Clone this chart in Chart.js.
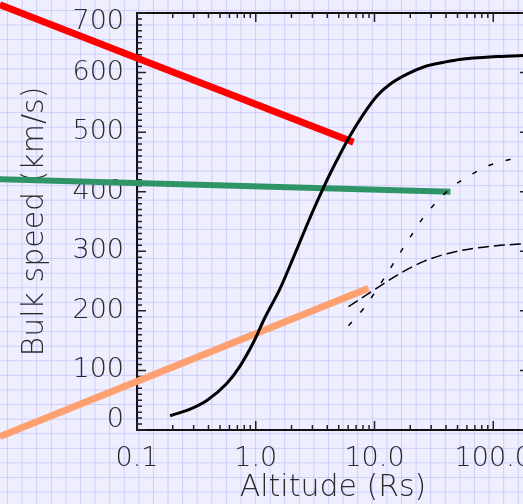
<!DOCTYPE html>
<html>
<head>
<meta charset="utf-8">
<script src="https://cdn.jsdelivr.net/npm/chart.js@4.4.1/dist/chart.umd.min.js"></script>
<style>
  html, body {
    margin: 0;
    padding: 0;
    overflow: hidden;
    width: 523px;
    height: 504px;
  }
  body {
    background-color: #eeeeff;
    background-image:
      linear-gradient(to right, rgba(196, 196, 248, 0.75) 1px, transparent 1px),
      linear-gradient(to bottom, rgba(196, 196, 248, 0.75) 1px, transparent 1px);
    background-size: 14.6px 14.6px;
    background-position: 7px 10px;
  }
  canvas { display: block; }
</style>
</head>
<body>
<canvas id="speedChart" width="560" height="504"></canvas>
<script>
// Bulk speed vs altitude

// solid black model curve
const altSolid = [0.19, 0.28, 0.39, 0.57, 0.73, 0.95, 1.19, 1.59, 2.06, 2.67, 3.35, 4.06, 5.1, 6.19, 8.0, 10.4, 13.4, 18.6, 27.4, 37.8, 52, 109, 200];
const speedSolid = [24, 35, 50, 78, 106, 146, 188, 236, 288, 342, 387, 423, 462, 493, 529, 560, 580, 597, 611, 617, 622, 627, 629];

// short-dashed curve
const altDotted = [6.04, 8.09, 12.9, 16.0, 20.3, 25.6, 33.7, 45.1, 64.3, 91.8, 138, 200];
const speedDotted = [175, 204, 264, 294, 326, 356, 384, 408, 428, 444, 454, 460];

// long-dashed curve
const altDashed = [6.04, 11.2, 16.5, 26, 40.9, 68.6, 115, 200];
const speedDashed = [207, 242, 263, 283, 296, 305, 310, 313];

// straight fits (they run past the left axis)
const altRed = [0.007, 6.66];
const speedRed = [714, 483];
const altGreen = [0.007, 43.6];
const speedGreen = [421, 400];
const altOrange = [0.007, 8.9];
const speedOrange = [-11, 238];

// axes
const xMajor = [0.1, 1, 10, 100];
const xMax = 200;
const yMajor = [0, 100, 200, 300, 400, 500, 600, 700];
const yMinorStep = 10;

const textColor = '#2a2a2a';
const labelFont = { family: 'DejaVu Sans', size: 27, weight: 200 };
const titleFont = { family: 'DejaVu Sans', size: 30, weight: 200 };

function toPoints(xs, ys) {
    return xs.map((v, i) => ({ x: v, y: ys[i] }));
}

// frame and inward tick marks, like the original plot
const frameTicks = {
    id: 'frameTicks',
    beforeDatasetsDraw(chart) {
        const { ctx, chartArea: a, scales: { x, y } } = chart;
        ctx.save();
        ctx.strokeStyle = '#111';
        ctx.lineWidth = 2;
        ctx.strokeRect(a.left, a.top, a.right - a.left, a.bottom - a.top);
        ctx.lineWidth = 1.5;
        ctx.strokeStyle = '#222';
        ctx.beginPath();
        x.ticks.forEach(t => {
            const px = x.getPixelForValue(t.value);
            const len = xMajor.includes(t.value) ? 9 : 5;
            ctx.moveTo(px, a.bottom);
            ctx.lineTo(px, a.bottom - len);
            ctx.moveTo(px, a.top);
            ctx.lineTo(px, a.top + len);
        });
        y.ticks.forEach(t => {
            const py = y.getPixelForValue(t.value);
            const len = yMajor.includes(t.value) ? 9 : 5;
            ctx.moveTo(a.left, py);
            ctx.lineTo(a.left + len, py);
            ctx.moveTo(a.right, py);
            ctx.lineTo(a.right - len, py);
        });
        ctx.stroke();
        ctx.restore();
    }
};

const yTop = yMajor[yMajor.length - 1];
const yBottom = yMajor[0];

const ctx = document.getElementById('speedChart');

new Chart(ctx, {
    type: 'line',
    data: {
        datasets: [
            {
                label: 'model',
                data: toPoints(altSolid, speedSolid),
                borderColor: '#000',
                borderWidth: 3,
                cubicInterpolationMode: 'monotone'
            },
            {
                label: 'dotted',
                data: toPoints(altDotted, speedDotted),
                borderColor: '#000',
                borderWidth: 1.5,
                borderDash: [5, 13],
                cubicInterpolationMode: 'monotone'
            },
            {
                label: 'dashed',
                data: toPoints(altDashed, speedDashed),
                borderColor: '#000',
                borderWidth: 1.5,
                borderDash: [11, 5],
                cubicInterpolationMode: 'monotone'
            },
            {
                label: 'red fit',
                data: toPoints(altRed, speedRed),
                borderColor: '#ff0000',
                borderWidth: 7,
                clip: false
            },
            {
                label: 'green fit',
                data: toPoints(altGreen, speedGreen),
                borderColor: '#2f9466',
                borderWidth: 6,
                clip: false
            },
            {
                label: 'orange fit',
                data: toPoints(altOrange, speedOrange),
                borderColor: '#ffa070',
                borderWidth: 7,
                clip: false
            }
        ]
    },
    options: {
        responsive: false,
        animation: false,
        devicePixelRatio: 1,
        layout: {
            padding: { top: 13, right: 31, left: 0, bottom: 0 }
        },
        elements: {
            point: { radius: 0, hoverRadius: 0 },
            line: { borderCapStyle: 'butt' }
        },
        plugins: {
            legend: { display: false },
            tooltip: { enabled: false }
        },
        scales: {
            x: {
                type: 'logarithmic',
                position: 'bottom',
                min: xMajor[0],
                max: xMax,
                grid: { display: false, drawTicks: false },
                border: { display: false },
                afterBuildTicks: function (axis) {
                    const ticks = [];
                    xMajor.forEach(d => {
                        for (let k = 1; k <= 9; k++) {
                            const v = k === 1 ? d : k * d;
                            if (v <= xMax) ticks.push({ value: v });
                        }
                    });
                    axis.ticks = ticks;
                },
                afterFit: function (axis) {
                    axis.height = 74;
                    axis.paddingLeft = 0;
                    axis.paddingRight = 0;
                },
                ticks: {
                    autoSkip: false,
                    maxRotation: 0,
                    padding: 13,
                    color: textColor,
                    font: labelFont,
                    callback: function (value) {
                        return xMajor.includes(value) ? value.toFixed(1) : '';
                    }
                },
                title: {
                    display: true,
                    text: 'Altitude (Rs)',
                    color: textColor,
                    font: titleFont,
                    padding: { top: 0, bottom: -2 }
                }
            },
            y: {
                type: 'linear',
                position: 'left',
                min: yBottom,
                max: yTop,
                grid: { display: false, drawTicks: false },
                border: { display: false },
                afterBuildTicks: function (axis) {
                    const ticks = [];
                    for (let v = yBottom; v <= yTop; v += yMinorStep) {
                        ticks.push({ value: v });
                    }
                    axis.ticks = ticks;
                },
                afterFit: function (axis) {
                    axis.width = 137;
                    axis.paddingTop = 0;
                    axis.paddingBottom = 0;
                },
                ticks: {
                    autoSkip: false,
                    padding: 13,
                    color: textColor,
                    // end labels sit a little inside the frame, as in the original
                    font: function (c) {
                        const v = c.tick ? c.tick.value : null;
                        if (v === yTop) return { ...labelFont, lineHeight: 0.64 };
                        if (v === yBottom) return { ...labelFont, lineHeight: 0.74 };
                        return labelFont;
                    },
                    callback: function (value) {
                        if (!yMajor.includes(value)) return '';
                        if (value === yTop) return ['', String(value)];
                        if (value === yBottom) return [String(value), ''];
                        return String(value);
                    }
                },
                title: {
                    display: true,
                    text: 'Bulk speed (km/s)',
                    color: textColor,
                    font: titleFont,
                    padding: { top: 17, bottom: 0 }
                }
            }
        }
    },
    plugins: [frameTicks]
});
</script>
</body>
</html>
